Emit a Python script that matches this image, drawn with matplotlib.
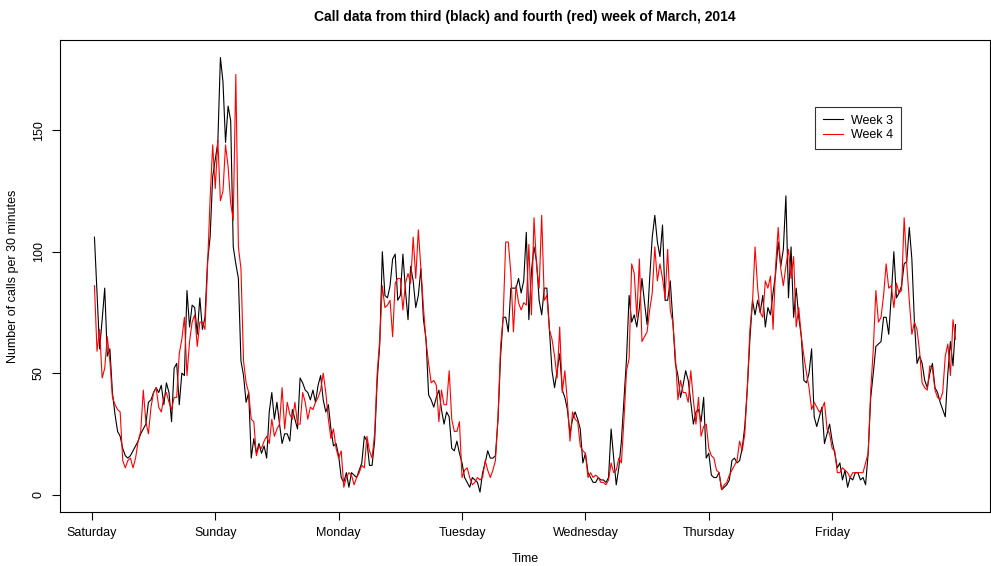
import matplotlib
matplotlib.use('Agg')
import matplotlib.pyplot as plt
import numpy as np

plt.rcParams['font.family'] = ['Liberation Sans', 'DejaVu Sans']

days = ['Saturday', 'Sunday', 'Monday', 'Tuesday', 'Wednesday', 'Thursday', 'Friday']

# calls per 30 minutes, 48 values per day (week 3 = black)
week3 = [
    # Saturday
    106, 83, 60, 72, 85, 57, 60, 42, 33, 26, 24, 19, 16, 15, 16, 18, 20, 22, 25, 27, 29, 38, 39, 42,
    44, 42, 45, 37, 46, 42, 30, 52, 54, 37, 50, 49, 84, 69, 78, 77, 66, 81, 68, 73, 96, 106, 131, 138,
    # Sunday
    145, 180, 170, 145, 160, 154, 102, 95, 89, 55, 49, 38, 42, 15, 23, 17, 21, 17, 20, 15, 34, 42, 31, 38,
    29, 21, 25, 25, 22, 35, 31, 27, 48, 46, 43, 42, 39, 43, 38, 45, 49, 39, 34, 37, 27, 20, 21, 16,
    # Monday
    7, 5, 9, 3, 9, 8, 7, 10, 13, 24, 22, 12, 12, 22, 47, 62, 100, 82, 81, 86, 97, 99, 80, 82,
    99, 84, 72, 94, 88, 77, 82, 93, 72, 64, 41, 39, 36, 40, 43, 35, 29, 34, 32, 19, 18, 22, 17, 13,
    # Tuesday
    7, 5, 3, 7, 6, 5, 1, 9, 13, 18, 15, 15, 16, 31, 57, 73, 73, 67, 85, 85, 85, 89, 83, 88,
    108, 72, 92, 102, 96, 80, 74, 85, 85, 68, 51, 44, 51, 58, 43, 40, 35, 25, 31, 34, 31, 27, 13, 17,
    # Wednesday
    9, 7, 5, 5, 7, 6, 6, 5, 7, 27, 15, 4, 11, 22, 39, 56, 82, 71, 74, 69, 77, 89, 79, 70,
    89, 106, 115, 104, 98, 111, 80, 80, 88, 72, 54, 49, 40, 45, 51, 47, 38, 29, 34, 35, 30, 40, 15, 17,
    # Thursday
    8, 7, 7, 9, 2, 3, 4, 6, 14, 15, 13, 14, 19, 28, 44, 64, 80, 74, 80, 75, 82, 69, 77, 74,
    83, 91, 104, 94, 101, 123, 81, 102, 73, 85, 73, 65, 47, 46, 50, 60, 32, 28, 32, 36, 21, 25, 29, 22,
    # Friday
    17, 11, 13, 6, 10, 3, 7, 6, 9, 9, 6, 7, 4, 17, 40, 50, 61, 62, 63, 73, 73, 66, 82, 100,
    81, 83, 86, 95, 96, 110, 97, 71, 54, 57, 54, 47, 44, 50, 54, 44, 42, 38, 35, 32, 50, 63, 53, 70,
]

# week 4 = red
week4 = [
    # Saturday
    86, 59, 68, 48, 52, 65, 55, 40, 37, 35, 34, 14, 11, 14, 15, 11, 15, 22, 26, 43, 30, 25, 36, 42,
    44, 36, 34, 40, 42, 38, 35, 40, 40, 58, 64, 73, 49, 63, 71, 74, 61, 71, 71, 68, 94, 122, 144, 126,
    # Sunday
    146, 121, 125, 144, 135, 120, 113, 173, 102, 93, 55, 46, 42, 31, 30, 16, 20, 19, 22, 24, 21, 31, 24, 27,
    29, 44, 27, 38, 33, 31, 38, 29, 29, 42, 38, 31, 36, 35, 38, 40, 43, 50, 42, 31, 23, 27, 19, 15,
    # Monday
    18, 3, 7, 9, 8, 4, 7, 9, 12, 11, 24, 18, 15, 25, 50, 64, 86, 77, 78, 80, 65, 87, 89, 89,
    76, 87, 91, 87, 106, 89, 109, 93, 77, 63, 54, 46, 47, 45, 30, 43, 37, 37, 51, 31, 26, 26, 30, 7,
    # Tuesday
    10, 11, 7, 4, 5, 7, 6, 7, 14, 10, 7, 10, 14, 32, 61, 73, 104, 104, 91, 67, 86, 79, 76, 79,
    78, 103, 74, 114, 94, 85, 115, 80, 82, 68, 64, 57, 48, 69, 42, 51, 38, 22, 34, 31, 30, 20, 18, 17,
    # Wednesday
    7, 9, 7, 8, 7, 5, 5, 4, 6, 13, 9, 10, 15, 13, 31, 51, 56, 95, 91, 73, 97, 63, 65, 67,
    76, 83, 102, 88, 95, 89, 81, 101, 76, 71, 57, 39, 47, 42, 42, 38, 51, 39, 29, 40, 24, 28, 29, 19,
    # Thursday
    16, 15, 10, 9, 2, 4, 5, 8, 10, 12, 14, 22, 18, 25, 44, 68, 79, 102, 85, 75, 73, 88, 85, 90,
    68, 94, 110, 93, 86, 94, 101, 89, 98, 69, 77, 65, 57, 50, 44, 35, 38, 36, 34, 35, 38, 27, 25, 19,
    # Friday
    18, 9, 9, 11, 10, 9, 7, 9, 9, 9, 9, 9, 13, 17, 43, 60, 84, 71, 73, 82, 95, 85, 86, 77,
    87, 83, 84, 114, 95, 80, 66, 71, 68, 59, 46, 44, 43, 53, 52, 43, 40, 39, 42, 57, 62, 49, 72, 64,
]

x = np.arange(1, len(week3) + 1)

fig = plt.figure(figsize=(9.91, 5.66), dpi=100)
ax = fig.add_axes([60 / 991, 1 - 512 / 566, 930 / 991, 472 / 566])

ax.plot(x, week3, color='black', lw=0.8, label='Week 3')
ax.plot(x, week4, color='red', lw=0.8, label='Week 4')

ax.set_xlim(-12.4, 349.4)
ax.set_ylim(-7.2, 187.2)
ax.set_xticks(np.arange(0, 48 * 7, 48))
ax.set_xticklabels(days, fontsize=9)
ax.set_yticks([0, 50, 100, 150])
ax.set_yticklabels(['0', '50', '100', '150'], fontsize=9, rotation=90, va='center')
ax.tick_params(direction='out', length=6, width=0.8, pad=5)

for s in ax.spines.values():
    s.set_linewidth(0.8)

ax.set_title('Call data from third (black) and fourth (red) week of March, 2014',
             fontsize=10, fontweight='bold', pad=14)
ax.set_xlabel('Time', fontsize=9, labelpad=10)
ax.set_ylabel('Number of calls per 30 minutes', fontsize=9, labelpad=10)

leg = ax.legend(loc='upper left', bbox_to_anchor=((815 - 60) / 930, (512 - 107) / 472),
                frameon=True, fancybox=False, edgecolor='black', fontsize=9,
                borderaxespad=0, handlelength=1.6, handletextpad=0.7,
                borderpad=0.6, labelspacing=0.2)
leg.get_frame().set_linewidth(0.8)

fig.savefig('out.png', dpi=100)
